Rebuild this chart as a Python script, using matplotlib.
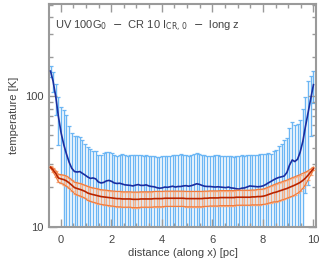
import matplotlib
matplotlib.use("Agg")
import matplotlib.pyplot as plt
import numpy as np
from matplotlib.ticker import FixedLocator, NullFormatter, LogLocator

# distance along x [pc]
distance = [-0.40, -0.30, -0.19, -0.09, 0.02, 0.13, 0.23, 0.34, 0.44, 0.55,
            0.65, 0.76, 0.86, 0.97, 1.07, 1.18, 1.28, 1.39, 1.49, 1.60,
            1.70, 1.81, 1.91, 2.02, 2.12, 2.23, 2.33, 2.44, 2.54, 2.65,
            2.75, 2.86, 2.96, 3.07, 3.17, 3.28, 3.38, 3.49, 3.59, 3.70,
            3.80, 3.91, 4.01, 4.12, 4.22, 4.33, 4.43, 4.54, 4.64, 4.75,
            4.85, 4.96, 5.06, 5.17, 5.27, 5.38, 5.48, 5.59, 5.69, 5.80,
            5.90, 6.01, 6.11, 6.22, 6.32, 6.43, 6.53, 6.64, 6.74, 6.85,
            6.95, 7.06, 7.16, 7.27, 7.37, 7.48, 7.58, 7.69, 7.79, 7.90,
            8.00, 8.11, 8.21, 8.32, 8.42, 8.53, 8.63, 8.74, 8.84, 8.95,
            9.05, 9.16, 9.26, 9.37, 9.47, 9.58, 9.68, 9.79, 9.89, 10.00]

# gas temperature (blue) and its scatter
gas_T = [155, 130, 98, 70, 52, 42, 36, 31, 28, 26.4,
         26.2, 26.4, 25.6, 24.8, 24.0, 23.4, 23.6, 23.2, 22.0, 21.6,
         21.8, 22.4, 22.6, 22.2, 21.6, 21.4, 21.5, 21.2, 20.9, 20.8,
         20.7, 20.5, 20.8, 21.0, 20.7, 20.7, 20.9, 20.5, 20.3, 20.2,
         19.9, 19.7, 19.8, 20.1, 20.0, 20.2, 20.4, 20.1, 20.3, 20.3,
         20.5, 20.6, 20.4, 20.6, 20.9, 21.3, 21.1, 20.7, 20.4, 20.3,
         20.3, 20.2, 20.1, 20.2, 20.1, 20.0, 19.9, 20.1, 19.8, 19.7,
         19.5, 19.4, 19.7, 19.8, 20.1, 20.5, 20.4, 20.3, 20.2, 20.3,
         20.5, 21.0, 21.6, 22.2, 22.8, 23.4, 23.8, 24.1, 24.4, 26.0,
         29.5, 32.4, 31.5, 32.8, 37.0, 45.0, 58.0, 75.0, 95.0, 122.0]
gas_err = [15, 22, 26, 27.5, 30.5, 36.5, 36, 28, 24.5, 22.6,
           22.8, 22, 20.5, 18.2, 16.6, 15.8, 14.6, 15, 13.4, 14,
           14.7, 14.6, 14.9, 14.3, 13.9, 13.6, 13.8, 14.6, 14.3, 14.2,
           14.7, 15.1, 14.4, 14.5, 14.7, 14.3, 14.3, 14.5, 14.5, 14.4,
           14.5, 14.5, 14.7, 14.7, 15.0, 14.6, 14.8, 15.3, 15.3, 15.7,
           15.1, 14.6, 14.6, 14.8, 14.9, 15.1, 14.9, 14.8, 14.8, 14.7,
           14.5, 14.8, 15.3, 15.0, 14.9, 14.8, 14.7, 14.7, 14.8, 14.7,
           15.1, 15.6, 15.5, 15.2, 15.3, 15.1, 15.0, 14.9, 15.2, 15.5,
           15.7, 15.0, 14.8, 13.9, 14.8, 15.3, 17.7, 18.9, 21.7, 21.5,
           27.3, 30.3, 28.5, 28.2, 28.8, 35, 40, 54, 46, 34]

# dust temperature (red) and its scatter
dust_T = [28.5, 27.2, 25.5, 23.6, 23.2, 22.9, 22.4, 21.6, 20.8, 19.9,
          19.6, 19.3, 19.0, 18.6, 18.1, 17.8, 17.6, 17.4, 17.2, 17.0,
          16.9, 16.8, 16.7, 16.6, 16.5, 16.4, 16.4, 16.3, 16.3, 16.3,
          16.3, 16.2, 16.2, 16.2, 16.3, 16.3, 16.3, 16.3, 16.3, 16.4,
          16.4, 16.4, 16.4, 16.5, 16.5, 16.5, 16.5, 16.5, 16.5, 16.5,
          16.5, 16.4, 16.4, 16.4, 16.4, 16.4, 16.4, 16.4, 16.5, 16.5,
          16.6, 16.6, 16.6, 16.6, 16.7, 16.7, 16.7, 16.7, 16.7, 16.7,
          16.8, 16.8, 16.8, 16.8, 16.8, 16.8, 16.9, 16.9, 17.0, 17.0,
          17.1, 17.3, 17.6, 17.9, 18.2, 18.4, 18.7, 19.0, 19.3, 19.6,
          20.0, 20.4, 20.8, 21.3, 21.8, 22.6, 23.5, 24.8, 26.2, 27.8]
dust_err = [0.4, 1.0, 1.4, 1.6, 1.8, 1.9, 2.0, 2.0, 2.0, 2.0,
            2.1, 2.1, 2.1, 2.1, 2.2, 2.2, 2.2, 2.2, 2.2, 2.2,
            2.2, 2.2, 2.2, 2.2, 2.2, 2.2, 2.2, 2.2, 2.2, 2.2,
            2.2, 2.2, 2.2, 2.2, 2.2, 2.2, 2.2, 2.2, 2.2, 2.2,
            2.2, 2.2, 2.2, 2.2, 2.2, 2.2, 2.2, 2.2, 2.2, 2.2,
            2.2, 2.2, 2.2, 2.2, 2.2, 2.2, 2.2, 2.2, 2.2, 2.2,
            2.2, 2.2, 2.2, 2.2, 2.2, 2.2, 2.2, 2.2, 2.2, 2.2,
            2.2, 2.2, 2.2, 2.2, 2.2, 2.2, 2.2, 2.2, 2.3, 2.3,
            2.3, 2.4, 2.5, 2.6, 2.7, 2.9, 3.0, 3.0, 3.1, 3.1,
            3.2, 3.3, 3.3, 3.3, 3.2, 3.0, 2.6, 2.0, 1.4, 0.8]

x_ticks = [0, 2, 4, 6, 8, 10]
y_ticks = [10, 100]

plt.rcParams['font.family'] = ['Liberation Sans', 'DejaVu Sans']
TXT = '#444444'
AX = '#9a9a9a'

fig = plt.figure(figsize=(3.25, 2.63), dpi=100)
ax = fig.add_axes([49/325, (263-226.7)/263, (316-49)/325, (226.7-4)/263])

x = np.array(distance)
g = np.array(gas_T); ge = np.array(gas_err)
d = np.array(dust_T); de = np.array(dust_err)

glow = np.minimum(ge, g - 1.0)
eb = ax.errorbar(x, g, yerr=[glow, ge], fmt='none', ecolor='#6cb6f4', elinewidth=1.0,
                 capsize=1.2, capthick=0.9, zorder=1)
for c in eb[1]:
    c.set_color('#3c8fe6')
ax.plot(x, g, color='#1a2ea0', lw=1.2, zorder=3)

eb2 = ax.errorbar(x, d, yerr=de, fmt='none', ecolor='#f6ae84', elinewidth=1.0,
                  capsize=1.2, capthick=0.9, zorder=4)
for c in eb2[1]:
    c.set_color('#f07a3c')
ax.plot(x, d + de, color='#f07a3c', lw=0.8, zorder=4)
ax.plot(x, d - de, color='#f07a3c', lw=0.8, zorder=4)
ax.plot(x, d, color='#b82400', lw=1.2, zorder=5)

ax.set_yscale('log')
ax.set_xlim(-0.46, 10.1)
ax.set_ylim(10, 505)

ax.xaxis.set_major_locator(FixedLocator(x_ticks))
ax.xaxis.set_minor_locator(FixedLocator(np.arange(-0.5, 10.2, 0.5)))
ax.set_xticklabels([str(t) for t in x_ticks])
ax.yaxis.set_major_locator(FixedLocator(y_ticks))
ax.yaxis.set_minor_locator(LogLocator(base=10, subs=np.arange(2, 10)))
ax.yaxis.set_minor_formatter(NullFormatter())
ax.set_yticklabels([str(t) for t in y_ticks])

for s in ax.spines.values():
    s.set_color(AX)
    s.set_linewidth(1.5)
ax.tick_params(which='both', direction='in', top=True, right=True, color=AX,
               labelcolor=TXT, labelsize=8)
ax.tick_params(which='major', length=5.5, width=1.0)
ax.tick_params(which='minor', length=3.1, width=1.0)
ax.tick_params(axis='x', which='major', pad=6)
ax.tick_params(axis='y', which='major', pad=4)

ax.set_xlabel('distance (along x) [pc]', fontsize=8, color=TXT, labelpad=2)
ax.set_ylabel('temperature [K]', fontsize=8, color=TXT, labelpad=4)

ax.text(0.022, 0.885, r'UV 100G$_0$  $-$  CR 10 I$_{\rm CR,\,0}$  $-$  long z',
        transform=ax.transAxes, fontsize=8, color=TXT, ha='left', va='baseline')

fig.savefig('out.png', dpi=100)
